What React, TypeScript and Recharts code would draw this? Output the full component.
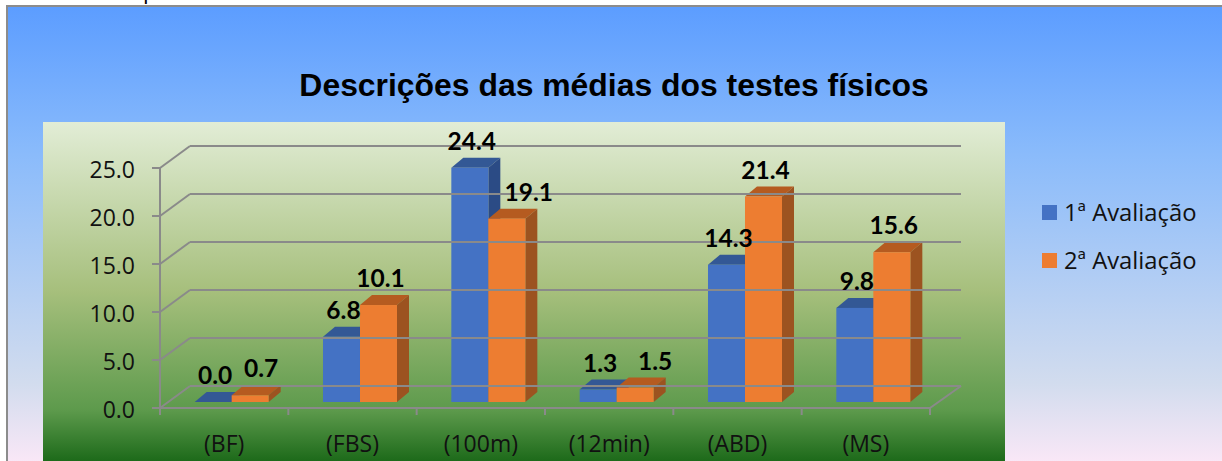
import { BarChart, Bar, XAxis, YAxis, Legend, LabelList } from "recharts";

const categories = ["(BF)", "(FBS)", "(100m)", "(12min)", "(ABD)", "(MS)"];
const avaliacao1 = [0.0, 6.8, 24.4, 1.3, 14.3, 9.8];
const avaliacao2 = [0.7, 10.1, 19.1, 1.5, 21.4, 15.6];
const yTicks = [0, 5, 10, 15, 20, 25];

const data = categories.map((name, i) => ({
  name,
  a1: avaliacao1[i],
  a2: avaliacao2[i],
}));

const WIDTH = 1222;
const HEIGHT = 461;
const PLOT_LEFT = 160;
const PLOT_RIGHT = 930;
const PLOT_TOP = 162;
const PLOT_BOTTOM = 402;
const BAND = (PLOT_RIGHT - PLOT_LEFT) / categories.length;

// fake 3D: how far the back wall sits from the front of the axes
const WALL_DX = 30;
const WALL_DY = 16;
const FRONT_DY = 6;
const BAR_SHIFT = 7.2;
const DEPTH_X = 12;
const DEPTH_Y = 10;
const AXIS_COLOR = "#8a8a8a";
const LABEL_FONT = "Lato, sans-serif";
const AXIS_FONT = "'Open Sans', sans-serif";

// labels that were dragged to the side in the original chart
const labelNudge: Record<string, number> = { "0.7": 9, "19.1": 20, "1.5": 18 };

const Bar3D = ({ x, y, width, height, front, top, side }: any) => {
  const fx = x + BAR_SHIFT;
  return (
    <g>
      <polygon
        points={`${fx},${y} ${fx + width},${y} ${fx + width + DEPTH_X},${y - DEPTH_Y} ${fx + DEPTH_X},${y - DEPTH_Y}`}
        fill={top}
      />
      <polygon
        points={`${fx + width},${y} ${fx + width + DEPTH_X},${y - DEPTH_Y} ${fx + width + DEPTH_X},${y + height - DEPTH_Y} ${fx + width},${y + height}`}
        fill={side}
      />
      <rect x={fx} y={y} width={width} height={height} fill={front} />
    </g>
  );
};

const YTick = ({ y, payload }: any) => {
  const fy = y + FRONT_DY;
  const by = y - WALL_DY;
  return (
    <g>
      <line x1={PLOT_LEFT + WALL_DX} y1={by} x2={PLOT_RIGHT + WALL_DX + 1} y2={by} stroke={AXIS_COLOR} strokeWidth={2} />
      <line x1={PLOT_LEFT} y1={fy} x2={PLOT_LEFT + WALL_DX} y2={by} stroke={AXIS_COLOR} strokeWidth={2} />
      <line x1={PLOT_LEFT - 8} y1={fy} x2={PLOT_LEFT} y2={fy} stroke={AXIS_COLOR} strokeWidth={2} />
      {payload.value === 0 && (
        <g>
          <line x1={PLOT_LEFT} y1={fy + 1} x2={PLOT_LEFT} y2={PLOT_TOP + FRONT_DY} stroke={AXIS_COLOR} strokeWidth={2} />
          <line x1={PLOT_LEFT} y1={fy} x2={PLOT_RIGHT} y2={fy} stroke={AXIS_COLOR} strokeWidth={2} />
          <line x1={PLOT_RIGHT} y1={fy} x2={PLOT_RIGHT + WALL_DX + 1} y2={by} stroke={AXIS_COLOR} strokeWidth={2} />
        </g>
      )}
      <text x={135} y={fy + 10} textAnchor="end" fontFamily={AXIS_FONT} fontSize={23} fill="#111">
        {payload.value.toFixed(1)}
      </text>
    </g>
  );
};

const XTick = ({ x, payload, index }: any) => {
  const left = x - BAND / 2;
  const floor = PLOT_BOTTOM + FRONT_DY;
  return (
    <g>
      <line x1={left} y1={floor} x2={left} y2={floor + 7} stroke={AXIS_COLOR} strokeWidth={2} />
      {index === categories.length - 1 && (
        <line x1={left + BAND} y1={floor} x2={left + BAND} y2={floor + 7} stroke={AXIS_COLOR} strokeWidth={2} />
      )}
      <text x={x} y={452} textAnchor="middle" fontFamily={AXIS_FONT} fontSize={23} fill="#111">
        {payload.value}
      </text>
    </g>
  );
};

const ValueLabel = ({ x, y, width, value }: any) => {
  const text = Number(value).toFixed(1);
  return (
    <text
      x={x + width / 2 + BAR_SHIFT + 2 + (labelNudge[text] ?? 0)}
      y={y - 18}
      textAnchor="middle"
      fontFamily={LABEL_FONT}
      fontWeight={700}
      fontSize={24.5}
      fill="#000"
    >
      {text}
    </text>
  );
};

const LegendList = ({ payload }: any) => (
  <div>
    {(payload ?? []).map((item: any) => (
      <div key={item.value} style={{ display: "flex", alignItems: "center", height: 48 }}>
        <span style={{ width: 15, height: 15, background: item.color, marginRight: 7 }} />
        <span style={{ fontFamily: AXIS_FONT, fontSize: 23.8, color: "#111", whiteSpace: "nowrap" }}>{item.value}</span>
      </div>
    ))}
  </div>
);

export default function App() {
  return (
    <div style={{ position: "absolute", left: 0, top: 0, width: WIDTH, height: HEIGHT, overflow: "hidden", background: "#fff" }}>
      <div
        style={{
          position: "absolute",
          left: 8,
          top: -22,
          height: 27,
          overflow: "hidden",
          whiteSpace: "nowrap",
          fontFamily: "'Liberation Sans', sans-serif",
          fontSize: 21,
          lineHeight: "29px",
          color: "#000",
        }}
      >
        Gráfico 3 – Representa as características dos testes físicos.
      </div>
      <div
        style={{
          position: "absolute",
          left: 6,
          top: 5,
          width: WIDTH,
          height: HEIGHT,
          boxSizing: "border-box",
          borderLeft: "2px solid #8c8c8c",
          borderTop: "2px solid #8c8c8c",
          background: "linear-gradient(180deg, #5c9dff 0%, #8abbfb 32%, #d2dcee 82%, #fbe8f7 100%)",
        }}
      />
      <div
        style={{
          position: "absolute",
          left: 43,
          top: 122,
          width: 962,
          height: 339,
          background: "linear-gradient(180deg, #e2edd6 0%, #a6bf7c 50%, #5d9a4c 85%, #1d6a1a 100%)",
        }}
      />
      <div
        style={{
          position: "absolute",
          left: 0,
          width: 1228,
          top: 65,
          textAlign: "center",
          fontFamily: "'Liberation Sans', sans-serif",
          fontWeight: 700,
          fontSize: 31.9,
          lineHeight: "40px",
          color: "#000",
        }}
      >
        Descrições das médias dos testes físicos
      </div>
      <div style={{ position: "absolute", left: 0, top: 0 }}>
        <BarChart
          width={WIDTH}
          height={HEIGHT}
          data={data}
          margin={{ top: PLOT_TOP, right: WIDTH - PLOT_RIGHT, left: 0, bottom: 0 }}
          barCategoryGap="21.4%"
          barGap={0}
        >
          <XAxis dataKey="name" height={HEIGHT - PLOT_BOTTOM} axisLine={false} tickLine={false} interval={0} tick={<XTick />} />
          <YAxis
            width={PLOT_LEFT}
            domain={[0, 25]}
            ticks={yTicks}
            axisLine={false}
            tickLine={false}
            interval={0}
            tick={<YTick />}
          />
          <Legend
            layout="vertical"
            align="center"
            verticalAlign="middle"
            wrapperStyle={{ left: 1042, top: 188, width: 170 }}
            content={<LegendList />}
          />
          <Bar
            dataKey="a1"
            name="1ª Avaliação"
            fill="#4472c4"
            isAnimationActive={false}
            shape={<Bar3D front="#4472c4" top="#335895" side="#2b4b85" />}
          >
            <LabelList dataKey="a1" content={<ValueLabel />} />
          </Bar>
          <Bar
            dataKey="a2"
            name="2ª Avaliação"
            fill="#ed7d31"
            isAnimationActive={false}
            shape={<Bar3D front="#ed7d31" top="#b55b20" side="#9c5320" />}
          >
            <LabelList dataKey="a2" content={<ValueLabel />} />
          </Bar>
        </BarChart>
      </div>
    </div>
  );
}
